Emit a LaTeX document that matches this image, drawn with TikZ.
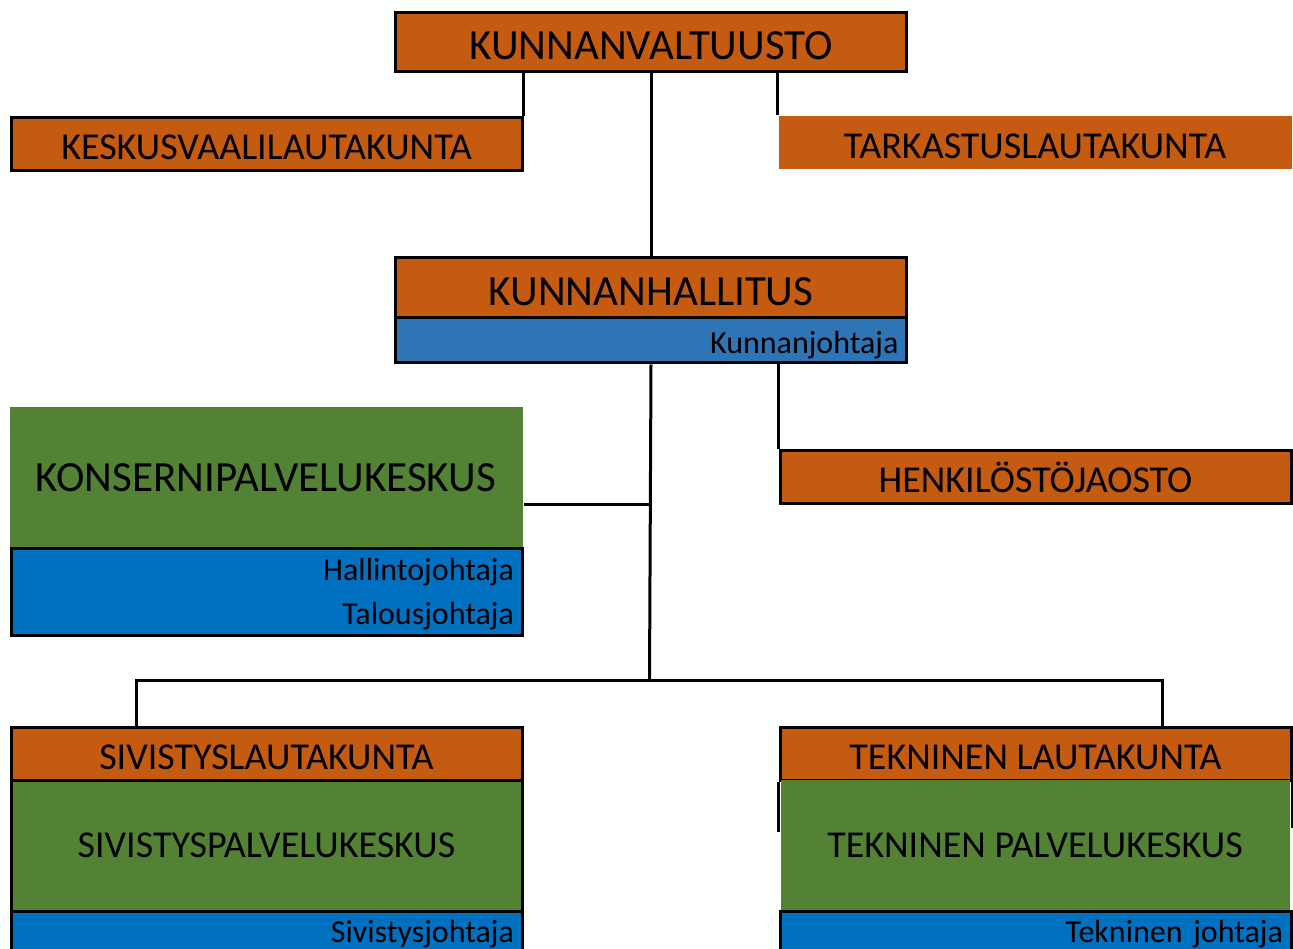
\documentclass[tikz,border=0pt]{standalone}
\usepackage{fontspec}
\setmainfont{Carlito}
\definecolor{rust}{HTML}{C55A11}
\definecolor{steel}{HTML}{2E75B6}
\definecolor{azure}{HTML}{0070C0}
\definecolor{moss}{HTML}{548235}

\begin{document}
\begin{tikzpicture}[x=1pt, y=-1pt, line width=3pt,
  box/.style={anchor=north west, inner sep=0pt, minimum width=511pt},
  board/.style={box, draw, fill=rust, text height=31pt, text depth=0pt},
  centre/.style={box, fill=moss, minimum width=513pt},
  head/.style={box, draw, fill=azure, text width=495pt, align=right},
  bigtxt/.style={font=\fontsize{43}{46}\selectfont},
  midtxt/.style={font=\fontsize{38}{40}\selectfont},
  smalltxt/.style={font=\fontsize{32}{44}\selectfont}]
  \useasboundingbox (0,0) rectangle (1293,949);
  \clip (0,0) rectangle (1293,949);

  \node[board, bigtxt, text height=35pt, minimum height=59pt] (KV) at (394,11.5) {KUNNANVALTUUSTO};
  \node[board, midtxt, minimum height=53pt] (KESK) at (9.5,116.5) {KESKUSVAALILAUTAKUNTA};
  \node[board, draw=none, midtxt, minimum width=513pt, minimum height=53pt] (TARK) at (777,115) {TARKASTUSLAUTAKUNTA};

  \node[board, bigtxt, text height=35pt, minimum height=60pt] (KH) at (394,256.5) {KUNNANHALLITUS};
  \node[head, fill=steel, smalltxt, text height=33pt, text depth=7pt, minimum height=45pt] (KJ) at (394,316.5) {Kunnanjohtaja};

  \node[centre, bigtxt, minimum height=142pt] (KONS) at (8,405) {KONSERNIPALVELUKESKUS};
  \node[head, smalltxt, minimum height=87pt] (KONSJ) at (9.5,547) {\rule{0pt}{27pt}Hallintojohtaja\\Talousjohtaja};
  \node[board, midtxt, minimum height=53pt] (HENK) at (778.5,448.5) {HENKILÖSTÖJAOSTO};

  \node[board, midtxt, minimum height=53pt] (SIVL) at (9.5,725.5) {SIVISTYSLAUTAKUNTA};
  \node[box, draw, fill=moss, midtxt, minimum height=131pt] (SIVP) at (9.5,778.5) {SIVISTYSPALVELUKESKUS};
  \node[head, smalltxt, minimum height=46pt] (SIVJ) at (9.5,909.5) {Sivistysjohtaja};

  \node[board, midtxt, minimum height=53pt] (TEKL) at (778.5,725.5) {TEKNINEN LAUTAKUNTA};
  \node[box, fill=moss, midtxt, minimum width=509pt, minimum height=131pt] (TEKP) at (779,778.5) {TEKNINEN PALVELUKESKUS};
  \node[head, smalltxt, minimum height=46pt] (TEKJ) at (778.5,909.5) {Tekninen johtaja};
  \draw (TEKL.south west) -- ++(0,50);
  \draw (TEKL.south east) -- ++(0,46);

  \coordinate (bus) at (649.5,680);
  \draw (KESK.north east) -- (KESK.north east |- KV.south);
  \draw (KV.south) -- (KH.north);
  \draw (TARK.north west) -- (TARK.north west |- KV.south);
  \draw (KJ.south) -- (bus);
  \draw (HENK.north west) -- (HENK.north west |- KJ.south);
  \draw ([yshift=-27pt]KONS.east) -- ([yshift=-27pt]KONS.east -| KJ.south);
  \draw ([xshift=126.5pt]SIVL.north west) |- (bus) -| ([xshift=383.5pt]TEKL.north west);
\end{tikzpicture}
\end{document}
